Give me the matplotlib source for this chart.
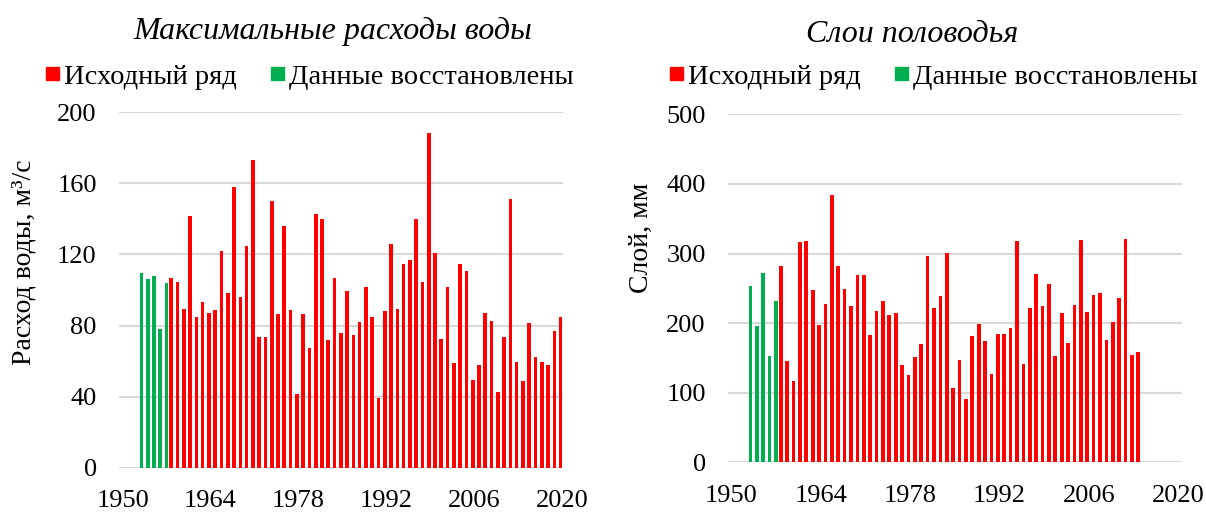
import numpy as np
import matplotlib.pyplot as plt
from matplotlib.patches import Patch

plt.rcParams['font.family'] = ['Liberation Serif', 'DejaVu Serif']

RED = '#ff0000'
GREEN = '#00b050'
GRID = '#d9d9d9'

# максимальные расходы воды, м3/с
q_years_rest = np.arange(1953, 1958)
q_rest = [109.5, 105.9, 107.8, 77.9, 104.0]
q_years_obs = np.arange(1957, 2020)
q_obs = [106.7, 104.6, 89.4, 141.8, 84.9, 93.0, 86.8, 88.6, 121.9, 98.4,
         158.1, 95.8, 124.9, 173.2, 73.4, 73.4, 150.1, 86.2, 135.8, 88.8,
         41.3, 86.2, 67.4, 142.9, 139.9, 71.9, 106.7, 75.5, 99.3, 74.9,
         82.1, 101.8, 84.9, 39.1, 87.9, 125.8, 89.2, 114.7, 116.6, 139.9,
         104.6, 188.2, 120.8, 72.3, 101.8, 58.8, 114.7, 110.8, 49.4, 57.5,
         87.1, 82.6, 42.8, 73.4, 151.2, 59.3, 48.8, 81.5, 62.3, 59.5,
         57.7, 77.0, 84.7]

# слои половодья, мм
h_years_rest = np.arange(1953, 1958)
h_rest = [253.9, 195.9, 271.6, 153.3, 231.4]
h_years_obs = np.arange(1957, 2014)
h_obs = [281.7, 145.1, 116.9, 316.6, 318.1, 247.6, 197.3, 228.0, 383.7, 281.7,
         249.6, 224.2, 269.2, 269.2, 182.5, 217.9, 231.4, 212.2, 214.1, 140.3,
         125.0, 150.9, 169.6, 296.5, 221.3, 239.0, 301.3, 106.8, 147.1, 90.5,
         182.0, 198.8, 173.9, 126.9, 183.9, 183.9, 193.0, 317.6, 140.8, 221.3,
         270.2, 224.2, 255.8, 152.8, 214.1, 171.0, 226.1, 319.0, 216.0, 240.9,
         243.8, 175.8, 202.1, 236.1, 321.4, 154.2, 159.0]

xticks = np.arange(1950, 2021, 14)
off = 0.375   # сдвиг рядов внутри года
bw = 0.58

fig = plt.figure(figsize=(12.06, 5.13), dpi=100)
ax1 = fig.add_axes([119 / 1206, 1 - 467.7 / 513, 444 / 1206, 355.5 / 513])
ax2 = fig.add_axes([728 / 1206, 1 - 462.3 / 513, 454 / 1206, 348 / 513])


def draw(ax, yr, vr, yo, vo, ylim, yticks, xlim, leg_x):
    ax.bar(yr, vr, width=bw, color=GREEN, linewidth=0, zorder=3)
    ax.bar(yo + 2 * off, vo, width=bw, color=RED, linewidth=0, zorder=3)
    ax.set_xlim(*xlim)
    ax.set_ylim(*ylim)
    ax.set_yticks(yticks)
    ax.set_xticks(xticks)
    ax.grid(axis='y', color=GRID, linewidth=1.5, zorder=0)
    ax.set_axisbelow(True)
    for s in ax.spines.values():
        s.set_visible(False)
    ax.tick_params(length=0, labelsize=19)
    ax.tick_params(axis='y', pad=16)
    ax.tick_params(axis='x', pad=16)
    handles = [Patch(color=RED, label='Исходный ряд'),
               Patch(color=GREEN, label='Данные восстановлены')]
    fig.legend(handles=handles, ncol=2, loc='center left',
               bbox_to_anchor=(leg_x / 1206, 1 - 77 / 513),
               frameon=False, fontsize=20.5, handlelength=0.44, handleheight=0.3,
               handletextpad=0.2, columnspacing=1.2, borderpad=0, borderaxespad=0)


draw(ax1, q_years_rest, q_rest, q_years_obs, q_obs, (0, 200),
     np.arange(0, 201, 40), (1949.43, 2020.13), 46)
draw(ax2, h_years_rest, h_rest, h_years_obs, h_obs, (0, 500),
     np.arange(0, 501, 100), (1949.48, 2020.6), 670)

ax1.set_ylabel('Расход воды, м³/с', fontsize=20)
ax1.yaxis.set_label_coords(-0.186, 0.579)
ax2.set_ylabel('Слой, мм', fontsize=20)
ax2.yaxis.set_label_coords(-0.163, 0.645)

fig.text(333 / 1206, 1 - 31 / 513, 'Максимальные расходы воды', fontsize=23,
         style='italic', ha='center', va='center')
fig.text(912 / 1206, 1 - 34 / 513, 'Слои половодья', fontsize=23,
         style='italic', ha='center', va='center')

fig.savefig('out.png', dpi=100)
